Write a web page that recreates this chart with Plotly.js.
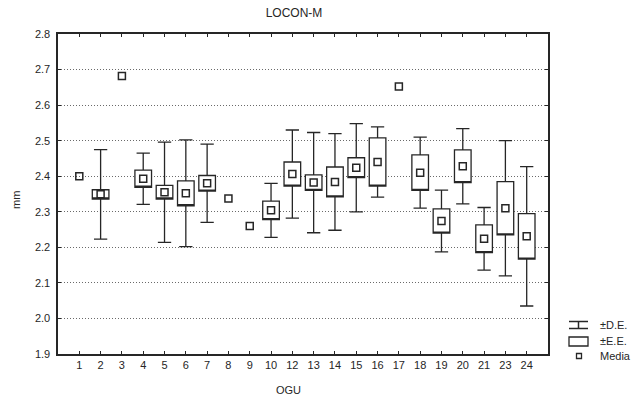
<!DOCTYPE html>
<html>
<head>
<meta charset="utf-8">
<script src="https://cdn.plot.ly/plotly-3.0.1.min.js"></script>
<style>
  html, body { margin: 0; padding: 0; background: #fff; }
  #chart { width: 641px; height: 401px; }
</style>
</head>
<body>
<div id="chart"></div>
<script>
// OGU groups (11 and 22 have no data)
const ogu = ["1","2","3","4","5","6","7","8","9","10","12","13","14","15","16","17","18","19","20","21","23","24"];
// Mean LOCON-M (mm) per OGU
const media = [2.400, 2.349, 2.682, 2.393, 2.355, 2.352, 2.380, 2.337, 2.260, 2.304, 2.406, 2.382, 2.384, 2.424, 2.440, 2.652, 2.410, 2.274, 2.428, 2.224, 2.310, 2.231];
// Standard error (±E.E.); null where the group has a single specimen
const errEst = [null, 0.013, null, 0.024, 0.019, 0.035, 0.022, null, null, 0.026, 0.034, 0.022, 0.042, 0.028, 0.068, null, 0.050, 0.034, 0.046, 0.039, 0.075, 0.064];
// Standard deviation (±D.E.)
const desvEst = [null, 0.126, null, 0.072, 0.141, 0.150, 0.110, null, null, 0.076, 0.124, 0.141, 0.136, 0.124, 0.099, null, 0.100, 0.087, 0.106, 0.088, 0.190, 0.196];
const yTicks = [1.9, 2.0, 2.1, 2.2, 2.3, 2.4, 2.5, 2.6, 2.7, 2.8];

const ink = '#262626';

// Box = mean ± SE, whiskers = mean ± SD
const bx = [], q1 = [], q3 = [], med = [], lo = [], hi = [];
ogu.forEach((g, i) => {
  if (errEst[i] == null) return;
  bx.push(g);
  q1.push(media[i] - errEst[i]);
  q3.push(media[i] + errEst[i]);
  med.push(media[i] - errEst[i]);
  lo.push(media[i] - desvEst[i]);
  hi.push(media[i] + desvEst[i]);
});

const boxes = {
  type: 'box',
  x: bx, q1: q1, median: med, q3: q3, lowerfence: lo, upperfence: hi,
  width: 0.78, whiskerwidth: 0.8,
  fillcolor: '#ffffff',
  line: { color: ink, width: 1.3 },
  boxpoints: false, showlegend: false, hoverinfo: 'skip'
};

const means = {
  type: 'scatter', mode: 'markers',
  x: ogu, y: media,
  marker: { symbol: 'square-open', size: 7, color: ink, line: { width: 1.5, color: ink } },
  showlegend: false, hoverinfo: 'skip'
};

// Legend drawn in paper space to the right of the plot
const L = 58, R = 548, T = 34, B = 354;
const px = v => (v - L) / (R - L);
const py = v => (B - v) / (B - T);
const legendShapes = [
  // ±D.E. glyph
  { type: 'line', xref: 'paper', yref: 'paper', x0: px(569), x1: px(588), y0: py(321.5), y1: py(321.5), line: { color: ink, width: 1.5 } },
  { type: 'line', xref: 'paper', yref: 'paper', x0: px(578.5), x1: px(578.5), y0: py(321.5), y1: py(328.5), line: { color: ink, width: 1.5 } },
  { type: 'line', xref: 'paper', yref: 'paper', x0: px(569), x1: px(588), y0: py(328.5), y1: py(328.5), line: { color: ink, width: 1.5 } },
  // ±E.E. glyph
  { type: 'rect', xref: 'paper', yref: 'paper', x0: px(569), x1: px(588), y0: py(337), y1: py(346), line: { color: ink, width: 1.3 }, fillcolor: '#fff' },
  // Media glyph
  { type: 'rect', xref: 'paper', yref: 'paper', x0: px(576.5), x1: px(581.5), y0: py(353.5), y1: py(358.5), line: { color: ink, width: 1.3 }, fillcolor: '#fff' }
];
const legendText = [['±D.E.', 325], ['±E.E.', 341], ['Media', 356]].map(([t, y]) => ({
  text: t, xref: 'paper', yref: 'paper', x: px(598), y: py(y),
  xanchor: 'left', yanchor: 'middle', showarrow: false,
  font: { family: 'Liberation Sans, Arial, sans-serif', size: 11, color: ink }
}));

const layout = {
  width: 641, height: 401,
  margin: { l: L, r: 641 - R, t: T, b: 401 - B },
  paper_bgcolor: '#fff', plot_bgcolor: '#fff',
  font: { family: 'Liberation Sans, Arial, sans-serif', size: 11, color: ink },
  title: {
    text: 'LOCON-M', xref: 'container', yref: 'container',
    x: 294 / 641, y: 1 - 13 / 401, xanchor: 'center', yanchor: 'middle',
    font: { size: 12, color: ink }
  },
  xaxis: {
    type: 'category', categoryorder: 'array', categoryarray: ogu,
    range: [-1, ogu.length],
    showgrid: false, zeroline: false,
    showline: true, linecolor: ink, linewidth: 1.6, mirror: 'ticks',
    ticks: 'inside', ticklen: 3, tickcolor: ink, tickwidth: 1,
    tickfont: { size: 11, color: ink }
  },
  yaxis: {
    range: [1.9, 2.8], tickvals: yTicks, tickformat: '.1f',
    showgrid: true, gridcolor: '#6a6a6a', griddash: '1px,2px', gridwidth: 1,
    zeroline: false,
    showline: true, linecolor: ink, linewidth: 1.6, mirror: 'ticks',
    ticks: 'inside', ticklen: 3, tickcolor: ink, tickwidth: 1,
    ticklabelstandoff: 4,
    tickfont: { size: 11, color: ink }
  },
  shapes: legendShapes,
  annotations: legendText.concat([
    { text: 'OGU', xref: 'paper', yref: 'paper', x: px(288), y: py(390), xanchor: 'center', yanchor: 'middle', showarrow: false, font: { size: 11, color: ink } },
    { text: 'mm', xref: 'paper', yref: 'paper', x: px(16), y: py(200), xanchor: 'center', yanchor: 'middle', textangle: -90, showarrow: false, font: { size: 11, color: ink } }
  ])
};

Plotly.newPlot('chart', [boxes, means], layout, { displayModeBar: false, staticPlot: true });
</script>
</body>
</html>
